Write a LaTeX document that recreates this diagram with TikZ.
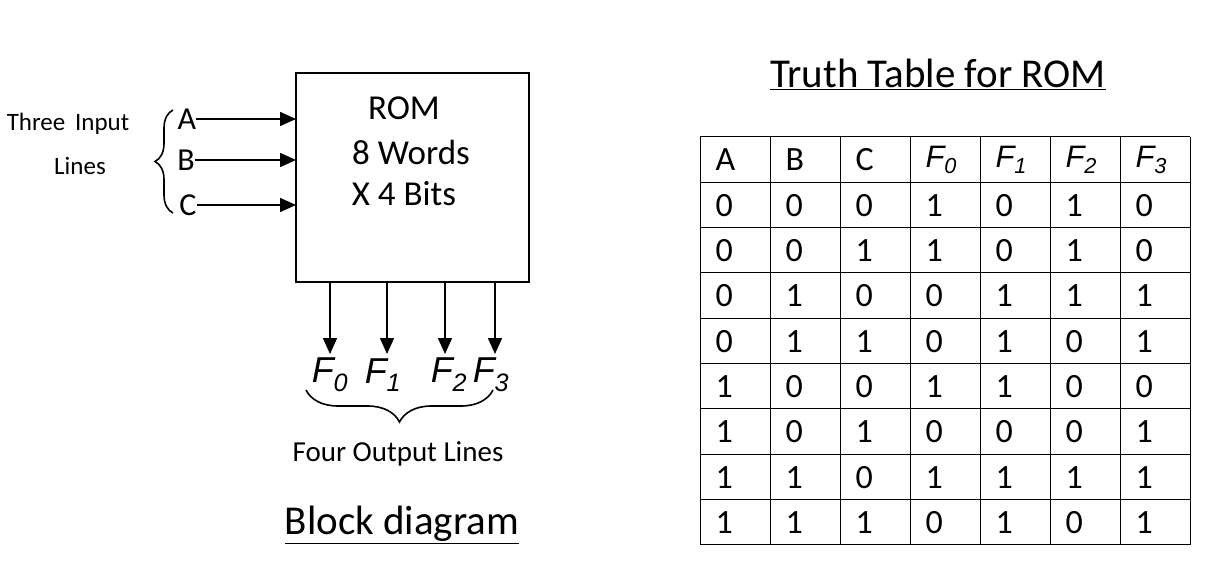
\documentclass[tikz,border=0pt]{standalone}
\usepackage{fontspec}
\setmainfont{Carlito}
\newfontfamily\arialf{Liberation Sans}
\usetikzlibrary{arrows.meta,decorations.pathreplacing}
\begin{document}
\begin{tikzpicture}[x=1pt,y=-1pt,
  ln/.style={line width=1.6pt},
  arr/.style={ln,-{Triangle[length=16pt,width=14pt]}},
  br/.style={ln,decorate,decoration={brace,amplitude=#1}},
  fl/.style={font=\arialf\fontsize{36}{36}\selectfont\itshape},
  tt/.style={font=\fontsize{34}{34}\selectfont,anchor=west}]
\useasboundingbox (0,0) rectangle (1226,580);
\node[draw,ln,minimum width=233pt,minimum height=209pt] (rom) at (412.5,177.5) {};
\node[font=\fontsize{35}{35}\selectfont] (t1) at (404,108) {ROM};
\node[font=\fontsize{35}{35}\selectfont] (t2) at (411,152) {8 Words};
\node[font=\fontsize{35}{35}\selectfont] (t3) at (404,194) {X 4 Bits};
\foreach \n/\y/\x in {A/119/187,B/160/186,C/205/188}{
  \node[font=\fontsize{32}{32}\selectfont,inner sep=0pt] (\n) at (\x,\y) {\n};
  \coordinate (\n e) at (296,\y);
  \draw[arr] (\n.east) -- (\n e);
}
\draw[br=18pt] (173,213) -- (173,110);
\node[font=\fontsize{25}{25}\selectfont] (ti) at (68,124) {Three\, Input};
\node[font=\fontsize{25}{25}\selectfont] (tl) at (80,166) {Lines};
\foreach \i/\x/\lx in {0/330/330,1/387/383,2/445/449,3/495/491}{
  \coordinate (o\i) at (\x,282);
  \node[fl,inner sep=0pt] (F\i) at (\lx,375) {F\textsubscript{\i}};
  \draw[arr] (o\i) -- (\x,354);
}
\draw[br=32pt] (493,390) -- (306,390);
\node[font=\fontsize{29}{29}\selectfont] (fo) at (398,454) {Four Output Lines};
\node[font=\fontsize{41}{41}\selectfont] (bd) at (402,525) {\underline{Block diagram}};
\node[font=\fontsize{41}{41}\selectfont] (tt) at (938,74) {\underline{Truth Table for ROM}};
\foreach \i in {0,...,7}{\draw[line width=1pt] (700+70*\i,137) -- (700+70*\i,545);}
\foreach \j in {0,...,9}{\draw[line width=1pt] (700,137+45.33*\j) -- (1190,137+45.33*\j);}
\foreach \h [count=\c from 0] in {A,B,C}{
  \node[tt] (h\c) at (700+70*\c+12,160) {\h};}
\foreach \c in {3,4,5,6}{
  \pgfmathtruncatemacro\k{\c-3}
  \node[tt,font=\arialf\fontsize{31}{31}\selectfont\itshape] (h\c) at (700+70*\c+12,160) {F\textsubscript{\k}};}
\foreach \row [count=\r from 1] in {{0,0,0,1,0,1,0},{0,0,1,1,0,1,0},{0,1,0,0,1,1,1},{0,1,1,0,1,0,1},{1,0,0,1,1,0,0},{1,0,1,0,0,0,1},{1,1,0,1,1,1,1},{1,1,1,0,1,0,1}}{
  \foreach \v [count=\c from 0] in \row {
    \node[tt] (c\r\c) at (700+70*\c+12,137+45.33*\r+23) {\v};}}
\end{tikzpicture}
\end{document}
